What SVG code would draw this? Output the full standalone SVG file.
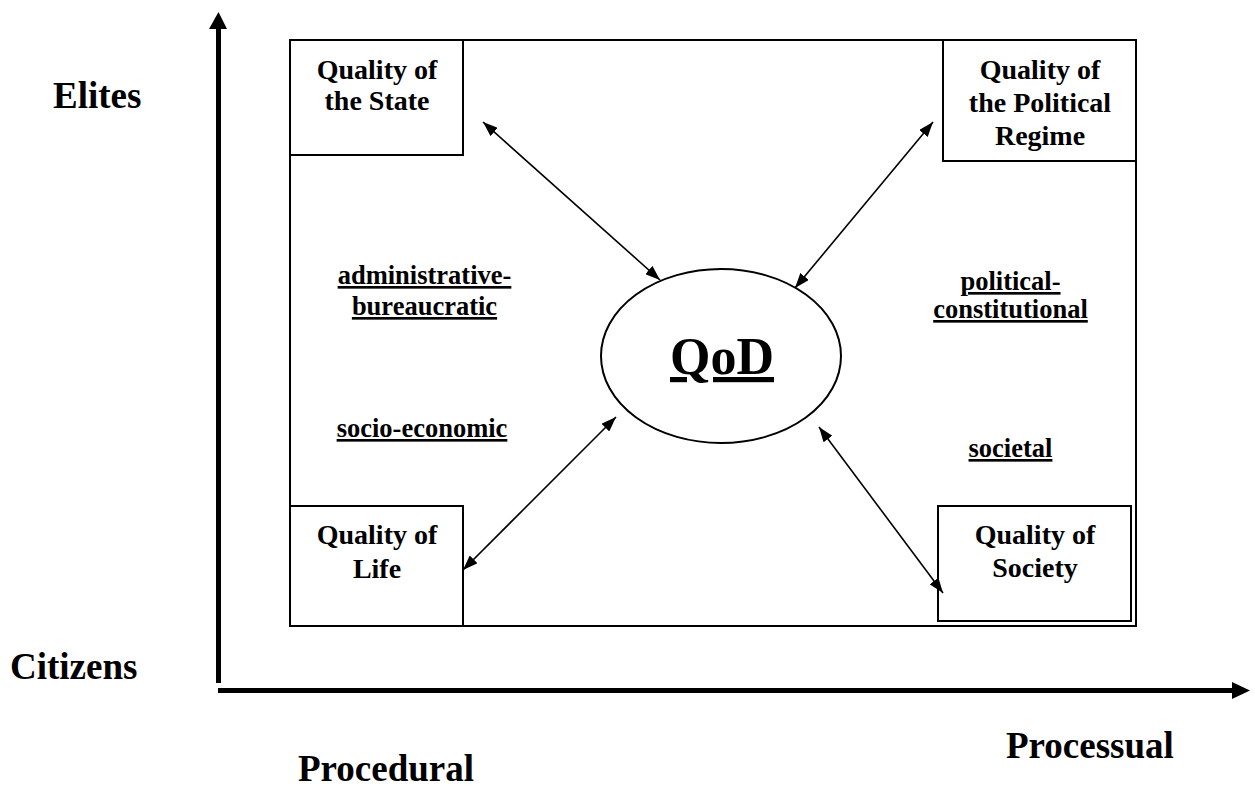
<svg xmlns="http://www.w3.org/2000/svg" width="1255" height="787" viewBox="0 0 1255 787">
<style>
text{font-family:"Liberation Serif","Times New Roman",serif;font-weight:bold;fill:#000}
.box{fill:#fff;stroke:#000;stroke-width:2}
.q{font-size:28px;text-anchor:middle}
.lbl{font-size:26.5px;text-anchor:middle;text-decoration:underline}
.ax{font-size:37px}
.conn{stroke:#000;stroke-width:1.6;fill:none;marker-start:url(#ah);marker-end:url(#ah)}
</style>
<defs>
<marker id="ah" markerUnits="userSpaceOnUse" markerWidth="15" markerHeight="11" refX="15" refY="5.5" orient="auto-start-reverse" viewBox="0 0 15 11">
<path d="M0,0 L15,5.5 L0,11 z" fill="#000"/>
</marker>
</defs>
<rect width="1255" height="787" fill="#fff"/>
<g id="axes">
<line x1="218.5" y1="683" x2="218.5" y2="26" stroke="#000" stroke-width="5"/>
<polygon points="209,29 227,29 218.5,12" fill="#000"/>
<line x1="218" y1="690.5" x2="1234" y2="690.5" stroke="#000" stroke-width="5"/>
<polygon points="1232,682 1232,699 1250,690.5" fill="#000"/>
</g>
<g id="frame">
<rect class="box" x="290" y="40" width="846" height="586"/>
</g>
<g id="state">
<rect class="box" x="290" y="40" width="173" height="115"/>
<text class="q" x="377" y="79">Quality of</text>
<text class="q" x="377" y="110">the State</text>
</g>
<g id="regime">
<rect class="box" x="943" y="40" width="193" height="121"/>
<text class="q" x="1040" y="79">Quality of</text>
<text class="q" x="1040" y="112">the Political</text>
<text class="q" x="1040" y="145">Regime</text>
</g>
<g id="life">
<rect class="box" x="290" y="506" width="173" height="120"/>
<text class="q" x="377" y="544">Quality of</text>
<text class="q" x="377" y="578">Life</text>
</g>
<g id="society">
<rect class="box" x="938" y="506" width="193" height="115"/>
<text class="q" x="1035" y="544">Quality of</text>
<text class="q" x="1035" y="577">Society</text>
</g>
<g id="qod">
<ellipse cx="721" cy="356" rx="120" ry="87" fill="#fff" stroke="#000" stroke-width="2"/>
<text x="722" y="374" font-size="52" text-anchor="middle" text-decoration="underline">QoD</text>
</g>
<g id="connectors">
<line class="conn" x1="483" y1="122" x2="660" y2="280"/>
<line class="conn" x1="933" y1="122" x2="795" y2="288"/>
<line class="conn" x1="616" y1="417" x2="463" y2="570"/>
<line class="conn" x1="819" y1="427" x2="943" y2="593"/>
</g>
<g id="labels">
<text class="lbl" x="424.5" y="284">administrative-</text>
<text class="lbl" x="424.5" y="315">bureaucratic</text>
<text class="lbl" x="1010.5" y="290">political-</text>
<text class="lbl" x="1010.5" y="318">constitutional</text>
<text class="lbl" x="422" y="437">socio-economic</text>
<text class="lbl" x="1010.5" y="457">societal</text>
</g>
<g id="axis-labels">
<text class="ax" x="53" y="108">Elites</text>
<text class="ax" x="10" y="679">Citizens</text>
<text class="ax" x="298" y="781">Procedural</text>
<text class="ax" x="1006" y="758">Processual</text>
</g>
</svg>
